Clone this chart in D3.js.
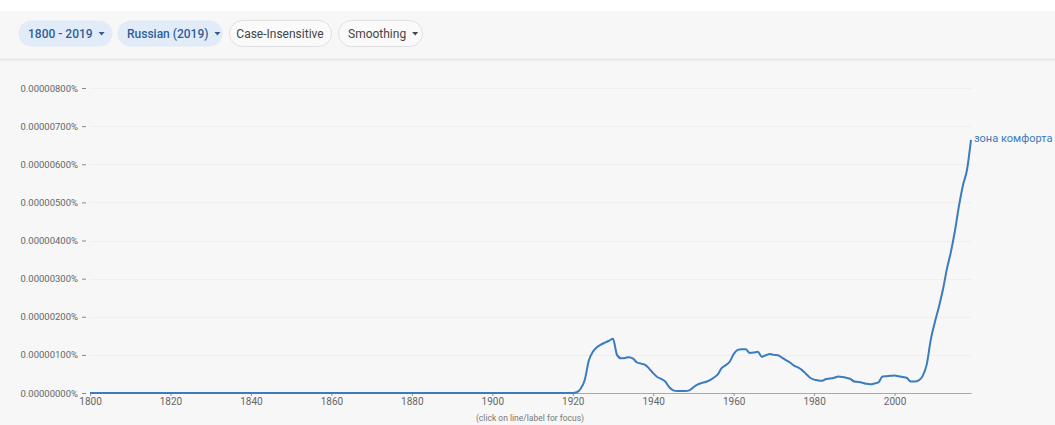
<!DOCTYPE html>
<html>
<head>
<meta charset="utf-8">
<script src="https://cdn.jsdelivr.net/npm/d3@7"></script>
<style>
  body { margin: 0; background: #fff; font-family: Roboto, "Noto Sans", sans-serif; }
  svg { display: block; }
</style>
</head>
<body>
<div id="chart"></div>
<script>
// years shown on the x axis
const years = d3.range(1800, 2020);
const xTicks = [1800, 1820, 1840, 1860, 1880, 1900, 1920, 1940, 1960, 1980, 2000];
const yTicks = [0, 1e-6, 2e-6, 3e-6, 4e-6, 5e-6, 6e-6, 7e-6, 8e-6];
const seriesName = "зона комфорта";
const chips = ["1800 - 2019", "Russian (2019)", "Case-Insensitive", "Smoothing"];

// frequency in percent (x 1e-6), 1921..2019; before 1921 it is zero
const tail = [0.02, 0.12, 0.35, 0.85, 1.08, 1.2, 1.27, 1.32, 1.37, 1.42,
  1.0, 0.91, 0.92, 0.94, 0.9, 0.8, 0.77, 0.74, 0.64, 0.52,
  0.42, 0.37, 0.3, 0.15, 0.07, 0.05, 0.05, 0.05, 0.07, 0.15,
  0.22, 0.26, 0.29, 0.33, 0.4, 0.48, 0.65, 0.73, 0.82, 1.02,
  1.13, 1.15, 1.15, 1.05, 1.06, 1.08, 0.95, 0.99, 1.02, 1.0,
  0.99, 0.93, 0.86, 0.8, 0.72, 0.67, 0.6, 0.5, 0.4, 0.35,
  0.33, 0.32, 0.37, 0.38, 0.4, 0.43, 0.42, 0.4, 0.37, 0.3,
  0.29, 0.27, 0.24, 0.23, 0.25, 0.28, 0.43, 0.44, 0.45, 0.46,
  0.44, 0.42, 0.4, 0.3, 0.3, 0.33, 0.45, 0.75, 1.4, 1.85,
  2.25, 2.7, 3.25, 3.7, 4.25, 4.9, 5.45, 5.85, 6.64];
const values = years.map(y => y < 1921 ? 0 : tail[y - 1921] * 1e-6);

const W = 1055, H = 425;
const svg = d3.select("#chart").append("svg")
    .attr("width", W).attr("height", H);

// backgrounds
svg.append("rect").attr("x", 0).attr("y", 11).attr("width", W).attr("height", H - 11)
    .attr("fill", "#f7f7f7");
svg.append("line").attr("x1", 0).attr("x2", W).attr("y1", 59.5).attr("y2", 59.5)
    .attr("stroke", "#e8e8e8").attr("stroke-width", 2);

// chips on top
const chipStyle = [
  {bg: "#e2ecf8", fg: "#2f5f99", arrow: true, x: 18, w: 94},
  {bg: "#e2ecf8", fg: "#2f5f99", arrow: true, x: 117, w: 105},
  {bg: "#fafafa", fg: "#444", arrow: false, x: 229, w: 102, border: "#e0e0e0"},
  {bg: "#fafafa", fg: "#444", arrow: true, x: 338, w: 84, border: "#e0e0e0"}
];
chips.forEach((c, i) => {
  const s = chipStyle[i];
  const g = svg.append("g").attr("transform", `translate(${s.x},20)`);
  g.append("rect").attr("x", 0.5).attr("y", 0.5).attr("width", s.w).attr("height", 26).attr("rx", 13)
      .attr("fill", s.bg).attr("stroke", s.border || "none");
  const t = g.append("text").attr("x", s.arrow ? 10 : s.w / 2).attr("y", 17.5)
      .attr("text-anchor", s.arrow ? "start" : "middle")
      .attr("font-size", 12).attr("fill", s.fg)
      .attr("font-weight", i < 2 ? 500 : 400)
      .text(c);
  if (s.arrow) {
    const tw = t.node().getComputedTextLength();
    g.append("path").attr("d", `M${10 + tw + 6},12 l6,0 l-3,3.5 z`).attr("fill", s.fg);
  }
});

// scales
const x = d3.scaleLinear().domain([1800, 2019]).range([90, 971]);
const y = d3.scaleLinear().domain([0, 8e-6]).range([393, 88]);

// grid
svg.append("g").selectAll("line").data(yTicks.slice(1)).join("line")
    .attr("x1", 90).attr("x2", 971)
    .attr("y1", d => Math.round(y(d)) + 0.5).attr("y2", d => Math.round(y(d)) + 0.5)
    .attr("stroke", "#efefef");

// y axis
const yAxis = svg.append("g").attr("transform", "translate(86,0)")
    .call(d3.axisLeft(y).tickValues(yTicks).tickSize(4).tickPadding(4)
      .tickFormat(d => d.toFixed(8) + "%"));
yAxis.select(".domain").remove();
yAxis.selectAll(".tick line").attr("stroke", "#888");
yAxis.selectAll("text").attr("fill", "#666").attr("font-size", 9.5)
    .attr("font-family", "Roboto, sans-serif");

// x axis
const xAxis = svg.append("g").attr("transform", "translate(0,393)")
    .call(d3.axisBottom(x).tickValues(xTicks).tickSize(3).tickPadding(2)
      .tickFormat(d3.format("d")).tickSizeOuter(0));
xAxis.select(".domain").attr("stroke", "#aaa");
xAxis.selectAll(".tick line").attr("stroke", "#999");
xAxis.selectAll("text").attr("fill", "#666").attr("font-size", 10)
    .attr("font-family", "Roboto, sans-serif");

svg.append("text").attr("x", 530).attr("y", 421).attr("text-anchor", "middle")
    .attr("font-size", 8.5).attr("fill", "#777").text("(click on line/label for focus)");

// line
const line = d3.line().x((d, i) => x(years[i])).y(d => y(d)).curve(d3.curveMonotoneX);
svg.append("path").datum(values)
    .attr("fill", "none").attr("stroke", "#3b7bbf").attr("stroke-width", 2)
    .attr("stroke-linejoin", "round")
    .attr("d", line);

svg.append("text").attr("x", x(2019) + 3).attr("y", y(values[values.length - 1]) + 2)
    .attr("font-size", 11).attr("fill", "#3b7bbf").text(seriesName);
</script>
</body>
</html>
